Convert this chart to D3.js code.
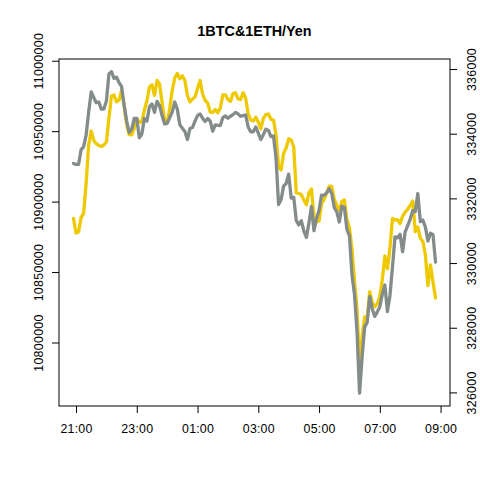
<!DOCTYPE html>
<html>
<head>
<meta charset="utf-8">
<script src="https://cdn.jsdelivr.net/npm/d3@7"></script>
<style>
  body { margin: 0; background: #fff; }
  text { font-family: "Liberation Sans", Arial, Helvetica, sans-serif; }
</style>
</head>
<body>
<script>
// 5-minute samples, 20:55 -> 08:50
var startTime = "20:55";
var stepMinutes = 5;

// BTC in yen (left axis, gold)
var btc = [
  10888150, 10877720, 10878430, 10888720, 10891560, 10913200, 10940170, 10950110, 10943370, 10941100,
  10939820, 10939110, 10940170, 10942300, 10959330, 10974950, 10975660, 10970830, 10972110, 10978850,
  10967850, 10954720, 10947620, 10947410, 10951880, 10958980, 10956500, 10956500, 10965010, 10971400,
  10981330, 10982900, 10975300, 10985950, 10983460, 10970330, 10957920, 10955790, 10966080, 10978850,
  10987720, 10990920, 10987230, 10989280, 10985950, 10975300, 10970690, 10972820, 10974240, 10980270,
  10985950, 10976370, 10971900, 10969840, 10963590, 10963240, 10965370, 10963100, 10966430, 10975660,
  10975800, 10972460, 10971040, 10976720, 10977220, 10972960, 10972460, 10977290, 10973530, 10962530,
  10957920, 10957210, 10959900, 10956500, 10951740, 10959120, 10961750, 10962170, 10958410, 10957920,
  10947410, 10924910, 10922430, 10934350, 10937970, 10944570, 10943720, 10938750, 10906110, 10905750,
  10904970, 10901140, 10897730, 10906250, 10908950, 10889070, 10885520, 10886230, 10898730, 10901490,
  10906110, 10910930, 10910790, 10901850, 10897240, 10893690, 10900070, 10901140, 10887300, 10881480,
  10866360, 10843650, 10823780, 10782620, 10804260, 10818100, 10816680, 10836060, 10828540, 10825410,
  10827400, 10832650, 10845070, 10861400, 10852310, 10867070, 10888150, 10886800, 10887160, 10884390,
  10889710, 10892410, 10894610, 10897240, 10900430, 10878780, 10881910, 10873960, 10871690, 10862110,
  10840460, 10855010, 10842950, 10831590
];

// ETH in yen (right axis, grey)
var eth = [
  333080, 333050, 333050, 333500, 333600, 333960, 334670, 335290, 335120, 334960,
  334980, 334760, 334760, 335010, 335850, 335920, 335710, 335750, 335580, 335460,
  334890, 334390, 334040, 334140, 334470, 334470, 333870, 333990, 334470, 334390,
  334830, 334920, 334660, 335000, 334870, 334560, 334300, 334320, 334500, 334670,
  334980, 334760, 334280, 334170, 334070, 333820, 334160, 334190, 334390, 334560,
  334610, 334480, 334380, 334470, 334390, 334080, 334270, 334260, 334250, 334500,
  334550, 334480, 334540, 334590, 334660, 334610, 334540, 334560, 334580, 334210,
  334060, 334060, 334210, 334020, 333820, 333970, 334140, 334100, 333910, 333930,
  333250, 331810, 331960, 332380, 332460, 332750, 332010, 332030, 331310, 331180,
  331310, 330990, 330790, 331240, 331750, 331000, 331380, 331640, 332100, 332100,
  332170, 332300, 332150, 331720, 331580, 331270, 331760, 331720, 331040, 330840,
  329630, 329030, 327870, 325980, 327100, 328020, 328160, 328960, 328580, 328350,
  328490, 328650, 329040, 329320, 328500, 328990, 329880, 330810, 330780, 330890,
  330350, 330960, 331160, 331360, 331620, 331590, 332150, 331280, 331330, 331110,
  330680, 330920, 330880, 330030
];

var leftLim = [10754940, 11001210];
var rightLim = [325580, 336310];
var leftTicks = [10800000, 10850000, 10900000, 10950000, 11000000];
var rightTicks = [326000, 328000, 330000, 332000, 334000, 336000];
var timeTicks = ["21:00", "23:00", "01:00", "03:00", "05:00", "07:00", "09:00"];
var title = "1BTC&1ETH/Yen";

var w = 480, h = 480;
var mLeft = 59, mRight = 450, mTop = 59, mBottom = 406;

var t0 = new Date(2018, 0, 10, +startTime.slice(0, 2), +startTime.slice(3));
var times = btc.map(function(d, i){ return d3.timeMinute.offset(t0, i * stepMinutes); });

var tEnd = times[times.length - 1];
var span = tEnd - t0;
var x = d3.scaleTime()
          .domain([new Date(+t0 - span * 0.04), new Date(+tEnd + span * 0.04)])
          .range([mLeft, mRight]);

var yL = d3.scaleLinear().domain(leftLim).range([mBottom, mTop]);
var yR = d3.scaleLinear().domain(rightLim).range([mBottom, mTop]);

// tick label -> date (hours before noon belong to the next day)
function tickDate(s){
  var hh = +s.slice(0, 2), mm = +s.slice(3);
  return new Date(2018, 0, hh < 12 ? 11 : 10, hh, mm);
}

var svg = d3.select("body")
            .append("svg")
            .attr("width", w)
            .attr("height", h);

svg.append("rect")
   .attr("width", w).attr("height", h).attr("fill", "#fff");

var lineL = d3.line()
              .x(function(d, i){ return x(times[i]); })
              .y(function(d){ return yL(d); });
var lineR = d3.line()
              .x(function(d, i){ return x(times[i]); })
              .y(function(d){ return yR(d); });

svg.append("path")
   .datum(btc)
   .attr("d", lineL)
   .attr("fill", "none")
   .attr("stroke", "#EEC900")
   .attr("stroke-width", 3.3)
   .attr("stroke-linejoin", "round")
   .attr("stroke-linecap", "round");

svg.append("path")
   .datum(eth)
   .attr("d", lineR)
   .attr("fill", "none")
   .attr("stroke", "#838B8B")
   .attr("stroke-width", 3.3)
   .attr("stroke-linejoin", "round")
   .attr("stroke-linecap", "round");

// box
svg.append("rect")
   .attr("x", mLeft).attr("y", mTop)
   .attr("width", mRight - mLeft).attr("height", mBottom - mTop)
   .attr("fill", "none")
   .attr("stroke", "#000")
   .attr("stroke-width", 1);

// bottom axis
var xAxis = d3.axisBottom(x)
              .tickValues(timeTicks.map(tickDate))
              .tickSize(7)
              .tickFormat(function(d, i){ return timeTicks[i]; });
var gx = svg.append("g").attr("transform", "translate(0," + mBottom + ")").call(xAxis);
gx.select(".domain").remove();
gx.selectAll("text").attr("y", 0).attr("dy", "26.5px")
  .attr("font-size", 12.4).attr("letter-spacing", 0.2)
  .attr("font-family", null).attr("fill", "#000");

// left axis
var gl = svg.append("g").attr("transform", "translate(" + mLeft + ",0)")
            .call(d3.axisLeft(yL).tickValues(leftTicks).tickSize(7).tickFormat(d3.format("d")));
gl.select(".domain").remove();
gl.selectAll("text")
  .attr("x", null).attr("dy", null)
  .attr("text-anchor", "middle")
  .attr("transform", "translate(-16.5,0) rotate(-90)")
  .attr("font-size", 12.4).attr("letter-spacing", 0.3)
  .attr("font-family", null).attr("fill", "#000");

// right axis
var gr = svg.append("g").attr("transform", "translate(" + mRight + ",0)")
            .call(d3.axisRight(yR).tickValues(rightTicks).tickSize(7).tickFormat(d3.format("d")));
gr.select(".domain").remove();
gr.selectAll("text")
  .attr("x", null).attr("dy", null)
  .attr("text-anchor", "middle")
  .attr("transform", "translate(26,0) rotate(-90)")
  .attr("font-size", 12.4).attr("letter-spacing", 0.3)
  .attr("font-family", null).attr("fill", "#000");

svg.selectAll(".tick line").attr("stroke", "#000");

svg.append("text")
   .attr("x", (mLeft + mRight) / 2)
   .attr("y", 35.5)
   .attr("text-anchor", "middle")
   .attr("font-size", 14.4)
   .attr("font-weight", "bold")
   .text(title);
</script>
</body>
</html>
